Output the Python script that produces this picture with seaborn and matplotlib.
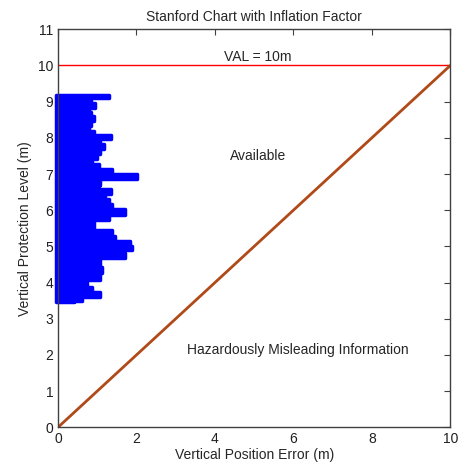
import matplotlib
matplotlib.use("Agg")
import matplotlib.pyplot as plt
import seaborn as sns
import numpy as np

# Stanford chart: VPL vs VPE, envelope of the sample cloud
vpl_level = [9.18, 9.04, 8.90, 8.76, 8.67, 8.53, 8.39, 8.26, 8.12, 8.03,
             7.89, 7.75, 7.61, 7.47, 7.34, 7.20, 7.06, 6.92, 6.78, 6.64,
             6.51, 6.37, 6.23, 6.09, 5.95, 5.81, 5.67, 5.54, 5.36, 5.22,
             5.08, 4.94, 4.85, 4.76, 4.62, 4.49, 4.35, 4.16, 3.97, 3.80,
             3.66, 3.52, 3.47]
vpe_max = [1.29, 0.83, 0.95, 0.78, 0.83, 0.91, 0.83, 0.78, 0.91, 1.34,
           1.08, 1.17, 1.08, 1.00, 0.87, 1.04, 1.38, 2.01, 1.08, 1.04,
           1.34, 1.21, 1.29, 1.38, 1.72, 1.29, 0.91, 0.91, 1.38, 1.46,
           1.84, 1.89, 1.46, 1.72, 1.08, 1.08, 1.13, 1.08, 0.74, 0.87,
           1.08, 0.60, 0.40]

diag_x = [0, 10]
diag_y = [0, 10]
val_limit = 10

xticks = [0, 2, 4, 6, 8, 10]
yticks = list(range(0, 12))

sns.set_style("white")
plt.rcParams['font.family'] = ['Liberation Sans', 'DejaVu Sans']

fig = plt.figure(figsize=(4.59, 4.71), dpi=100)
ax = fig.add_axes([0.1264, 0.0928, 0.8547, 0.845])

# sample cloud
ax.fill_betweenx(vpl_level, -0.06, vpe_max, step='mid', facecolor='blue',
                 edgecolor='blue', lw=2.5, joinstyle='round', zorder=2, clip_on=False)

# VAL line and the diagonal
ax.axhline(val_limit, color='red', lw=1, zorder=3)
sns.lineplot(x=diag_x, y=diag_y, ax=ax, color='#b04a18', lw=2, zorder=3)

ax.text(5.1, 10.05, "VAL = 10m", ha='center', va='bottom', fontsize=10)
ax.text(5.1, 7.5, "Available", ha='center', va='center', fontsize=10)
ax.text(6.1, 2.15, "Hazardously Misleading Information", ha='center', va='center', fontsize=10)

ax.set_xlim(0, 10)
ax.set_ylim(0, 11)
ax.set_xticks(xticks)
ax.set_yticks(yticks)
ax.tick_params(direction='in', top=True, right=True, length=4, labelsize=10,
               color='#404040', labelcolor='#202020')
for s in ax.spines.values():
    s.set_color('#404040')
    s.set_linewidth(1)
    s.set_zorder(4)

ax.set_title("Stanford Chart with Inflation Factor", fontsize=10, pad=6)
ax.set_xlabel("Vertical Position Error (m)", fontsize=10, labelpad=1)
ax.set_ylabel("Vertical Protection Level (m)", fontsize=10, labelpad=4)

fig.savefig("out.png", dpi=100)
